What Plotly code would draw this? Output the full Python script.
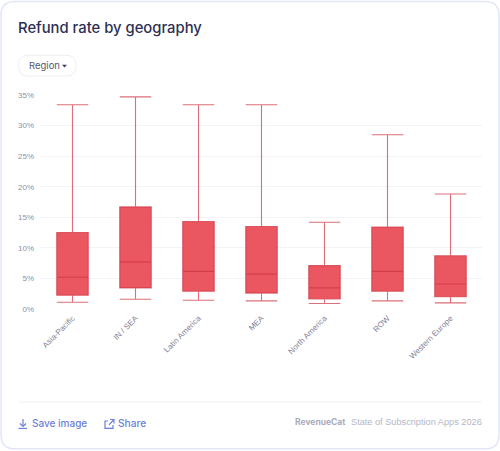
import plotly.graph_objects as go

regions = ["Asia-Pacific", "IN / SEA", "Latin America", "MEA", "North America", "ROW", "Western Europe"]
lower = [1.1, 1.6, 1.43, 1.33, 0.9, 1.33, 1.0]
q1 = [2.25, 3.45, 2.9, 2.6, 1.66, 2.9, 2.0]
median = [5.2, 7.7, 6.15, 5.7, 3.45, 6.15, 4.1]
q3 = [12.5, 16.7, 14.3, 13.5, 7.1, 13.4, 8.7]
upper = [33.4, 34.7, 33.4, 33.4, 14.2, 28.5, 18.8]
y_ticks = [0, 5, 10, 15, 20, 25, 30, 35]

W, H = 500, 451
L, R, T, B = 41, 482, 94.5, 309.5


def px(x):
    return (x - L) / (R - L)


def py(y):
    return (B - y) / (B - T)


def rounded(x0, y0, x1, y1, r):
    # closed rounded rectangle as an SVG path in paper coordinates
    pts = [
        ("M", x0 + r, y0), ("L", x1 - r, y0), ("Q", x1, y0, x1, y0 + r),
        ("L", x1, y1 - r), ("Q", x1, y1, x1 - r, y1), ("L", x0 + r, y1),
        ("Q", x0, y1, x0, y1 - r), ("L", x0, y0 + r), ("Q", x0, y0, x0 + r, y0),
    ]
    parts = []
    for p in pts:
        coords = [f"{px(p[i])},{py(p[i + 1])}" for i in range(1, len(p), 2)]
        parts.append(p[0] + " ".join(coords))
    return " ".join(parts) + " Z"


def poly(points, close=False):
    d = "M" + " L".join(f"{px(x)},{py(y)}" for x, y in points)
    return d + (" Z" if close else "")


fig = go.Figure(
    go.Box(
        x=regions,
        lowerfence=lower,
        q1=q1,
        median=median,
        q3=q3,
        upperfence=upper,
        width=0.5,
        whiskerwidth=1,
        fillcolor="rgba(232,62,74,0.87)",
        line=dict(color="rgba(205,50,66,0.7)", width=1.1),
        hoverinfo="skip",
        showlegend=False,
    )
)

blue = "#6b7fdc"
icon = dict(xref="paper", yref="paper", line=dict(color=blue, width=1.2))
shapes = [
    dict(type="path", path=rounded(1, 0.5, 499, 450, 14), xref="paper", yref="paper",
         line=dict(color="#e2e6f8", width=1.5), fillcolor="white", layer="below"),
    dict(type="path", path=rounded(18.5, 54.5, 76, 75.5, 10), xref="paper", yref="paper",
         line=dict(color="#eeeef3", width=1), fillcolor="white", layer="below"),
    dict(type="path", path=poly([(62, 64), (67, 64), (64.5, 66.8)], True), xref="paper", yref="paper",
         line=dict(width=0), fillcolor="#3d3f5e"),
    dict(type="line", xref="paper", yref="paper", x0=px(18), x1=px(482), y0=py(403), y1=py(403),
         line=dict(color="#f1f1f8", width=1)),
    # download icon
    dict(type="path", path=poly([(23, 420), (23, 427)]), **icon),
    dict(type="path", path=poly([(20, 424.5), (23, 427.5), (26, 424.5)]), **icon),
    dict(type="path", path=poly([(18.5, 429.5), (27, 429.5)]), **icon),
    # share icon
    dict(type="path", path=poly([(108, 422), (105, 422), (105, 429.5), (113, 429.5), (113, 426)]), **icon),
    dict(type="path", path=poly([(109, 426), (113.5, 421)]), **icon),
    dict(type="path", path=poly([(110, 420.5), (114, 420.5), (114, 424.5)]), **icon),
]


def label(x, y, text, size, color, anchor="left", weight=400, family="Inter"):
    # annotation boxes carry about 2px of padding, taken off the anchor here
    shift = -2 if anchor == "left" else 2
    return dict(
        x=px(x + shift), y=py(y), xref="paper", yref="paper", text=text, showarrow=False,
        xanchor=anchor, yanchor="middle",
        font=dict(family=family, size=size, color=color, weight=weight),
    )


annotations = [
    label(18, 27, "Refund rate by geography", 14.8, "#2d2f55", weight=500),
    label(29, 65, "Region", 9.5, "#55576f"),
    label(32, 424.5, "Save image", 10, blue, weight=500),
    label(118, 424.5, "Share", 10.2, blue, weight=500),
    label(295, 423.5, "RevenueCat", 8.5, "#a9abbd", weight=700),
    label(482, 423.5, "State of Subscription Apps 2026", 9.2, "#b4b6c6", anchor="right", family="Liberation Sans"),
]

fig.update_layout(
    width=W,
    height=H,
    margin=dict(l=L, r=W - R, t=T, b=H - B, pad=0),
    paper_bgcolor="white",
    plot_bgcolor="rgba(0,0,0,0)",
    shapes=shapes,
    annotations=annotations,
    font=dict(family="Liberation Sans", color="#8a8ca0", size=8),
    xaxis=dict(
        type="category",
        categoryorder="array",
        categoryarray=regions,
        range=[-0.5, 6.5],
        tickangle=-45,
        tickfont=dict(size=8, color="#7f8197"),
        ticklabelstandoff=2,
        showgrid=False,
        showline=False,
        ticks="",
        zeroline=False,
        fixedrange=True,
    ),
    yaxis=dict(
        range=[0, 35],
        tickvals=y_ticks,
        ticktext=[f"{v}%" for v in y_ticks],
        tickfont=dict(size=8, color="#8f91a5"),
        gridcolor="#f3f3f7",
        gridwidth=1,
        zeroline=False,
        showline=False,
        ticks="",
        ticklabelstandoff=6,
        fixedrange=True,
    ),
)

fig.write_html("out.html", config={"displayModeBar": False})
